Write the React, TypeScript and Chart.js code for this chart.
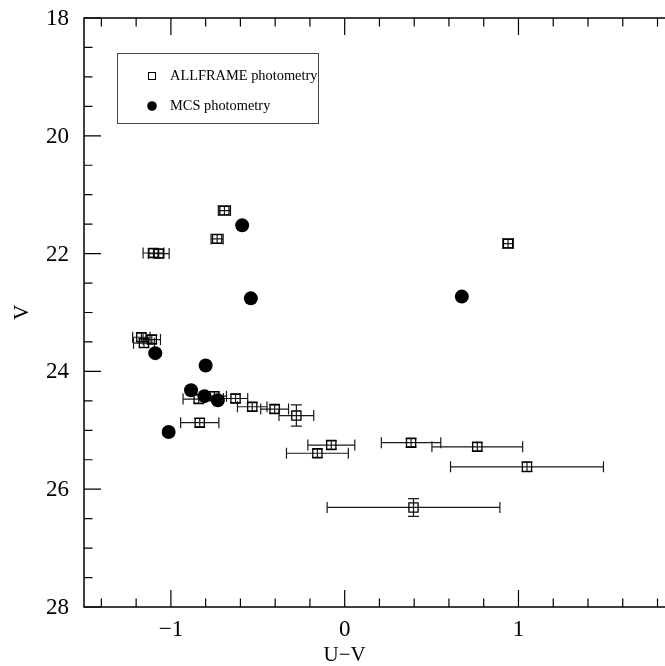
import React, { useEffect, useRef } from 'react';
import { Chart, registerables } from 'chart.js';

Chart.register(...registerables);

// ALLFRAME photometry (open squares with error bars)
const allframeX = [-0.692, -0.734, -1.10, -1.07, 0.94, -1.17, -1.155, -1.11, -0.84, -0.75, -0.628, -0.532, -0.403, -0.278, -0.834, -0.077, -0.157, 0.382, 0.763, 1.049, 0.396];
const allframeY = [21.27, 21.75, 21.99, 22.0, 21.83, 23.42, 23.52, 23.46, 24.47, 24.42, 24.46, 24.6, 24.64, 24.75, 24.87, 25.25, 25.39, 25.21, 25.28, 25.62, 26.31];
const allframeXErr = [0.035, 0.035, 0.06, 0.06, 0.03, 0.05, 0.06, 0.05, 0.09, 0.07, 0.07, 0.085, 0.08, 0.1, 0.11, 0.135, 0.178, 0.171, 0.261, 0.44, 0.497];
const allframeYErr = [0.07, 0.07, 0.07, 0.07, 0.07, 0.07, 0.07, 0.07, 0.07, 0.07, 0.07, 0.07, 0.07, 0.18, 0.07, 0.07, 0.07, 0.07, 0.07, 0.08, 0.15];

// MCS photometry (filled circles)
const mcsX = [-0.59, -0.54, 0.674, -1.09, -0.8, -0.884, -0.807, -0.73, -1.013];
const mcsY = [21.52, 22.76, 22.73, 23.69, 23.9, 24.32, 24.42, 24.49, 25.03];

const xTickLabels = [-1, 0, 1];
const yTickLabels = [18, 20, 22, 24, 26, 28];
const xMinorStep = 0.2;
const yMinorStep = 0.5;
const legendLabels = ['ALLFRAME photometry', 'MCS photometry'];
const xTitle = 'U\u2212V';
const yTitle = 'V';

const FONT = '"Liberation Serif", "DejaVu Serif", serif';

const fmt = (v: number) => (v < 0 ? '\u2212' + Math.abs(v) : String(v));

const decorPlugin = {
  id: 'decor',
  beforeDatasetsDraw(chart: any) {
    const ctx = chart.ctx;
    const xs = chart.scales.x;
    const ys = chart.scales.y;
    ctx.save();
    ctx.strokeStyle = '#1a1a1a';
    ctx.lineWidth = 1.2;
    allframeX.forEach((x, i) => {
      const y = allframeY[i];
      const px = xs.getPixelForValue(x);
      const py = ys.getPixelForValue(y);
      const x1 = xs.getPixelForValue(x - allframeXErr[i]);
      const x2 = xs.getPixelForValue(x + allframeXErr[i]);
      const y1 = ys.getPixelForValue(y - allframeYErr[i]);
      const y2 = ys.getPixelForValue(y + allframeYErr[i]);
      ctx.beginPath();
      ctx.moveTo(x1, py); ctx.lineTo(x2, py);
      ctx.moveTo(x1, py - 5.5); ctx.lineTo(x1, py + 5.5);
      ctx.moveTo(x2, py - 5.5); ctx.lineTo(x2, py + 5.5);
      ctx.moveTo(px, y1); ctx.lineTo(px, y2);
      ctx.moveTo(px - 5.5, y1); ctx.lineTo(px + 5.5, y1);
      ctx.moveTo(px - 5.5, y2); ctx.lineTo(px + 5.5, y2);
      ctx.stroke();
    });
    ctx.restore();
  },
  afterDraw(chart: any) {
    const ctx = chart.ctx;
    const xs = chart.scales.x;
    const ys = chart.scales.y;
    const a = chart.chartArea;
    ctx.save();
    ctx.strokeStyle = '#000';
    ctx.lineWidth = 1.5;
    // frame (right edge lies outside the visible window)
    ctx.beginPath();
    ctx.moveTo(chart.width, a.top); ctx.lineTo(a.left, a.top); ctx.lineTo(a.left, a.bottom); ctx.lineTo(chart.width, a.bottom);
    ctx.stroke();
    ctx.lineWidth = 1.2;
    // x ticks (bottom and top)
    ctx.beginPath();
    const xStart = Math.ceil(xs.min / xMinorStep) * xMinorStep;
    for (let v = xStart; v <= xs.max + 1e-9; v += xMinorStep) {
      const major = Math.abs(v - Math.round(v)) < 1e-6;
      const len = major ? 17 : 8.5;
      const px = xs.getPixelForValue(v);
      ctx.moveTo(px, a.bottom); ctx.lineTo(px, a.bottom - len);
      ctx.moveTo(px, a.top); ctx.lineTo(px, a.top + len);
    }
    // y ticks (left)
    const yStart = Math.ceil(ys.min / yMinorStep) * yMinorStep;
    for (let v = yStart; v <= ys.max + 1e-9; v += yMinorStep) {
      const major = Math.abs(v / 2 - Math.round(v / 2)) < 1e-6;
      const len = major ? 17 : 8.5;
      const py = ys.getPixelForValue(v);
      ctx.moveTo(a.left, py); ctx.lineTo(a.left + len, py);
    }
    ctx.stroke();

    // tick labels
    ctx.fillStyle = '#000';
    ctx.font = `23px ${FONT}`;
    ctx.textAlign = 'center';
    ctx.textBaseline = 'middle';
    xTickLabels.forEach((v) => ctx.fillText(fmt(v), xs.getPixelForValue(v), a.bottom + 23));
    ctx.textAlign = 'right';
    yTickLabels.forEach((v) => ctx.fillText(fmt(v), a.left - 15, ys.getPixelForValue(v) + 1));

    // axis titles
    ctx.font = `21px ${FONT}`;
    ctx.textAlign = 'center';
    ctx.fillText(xTitle, xs.getPixelForValue(0), 655);
    ctx.save();
    ctx.translate(22, (a.top + a.bottom) / 2);
    ctx.rotate(-Math.PI / 2);
    ctx.fillText(yTitle, 0, 0);
    ctx.restore();

    // legend
    ctx.strokeStyle = '#444';
    ctx.lineWidth = 1;
    ctx.strokeRect(117.5, 53.5, 201, 70);
    ctx.strokeStyle = '#000';
    ctx.strokeRect(148.5, 72.5, 7, 7);
    ctx.beginPath();
    ctx.arc(152, 106, 4.8, 0, Math.PI * 2);
    ctx.fill();
    ctx.font = `14.4px ${FONT}`;
    ctx.textAlign = 'left';
    ctx.textBaseline = 'middle';
    ctx.fillText(legendLabels[0], 170, 76);
    ctx.fillText(legendLabels[1], 170, 106);
    ctx.restore();
  },
};

export default function App() {
  const ref = useRef<HTMLCanvasElement>(null);
  useEffect(() => {
    if (!ref.current) return;
    const chart = new Chart(ref.current, {
      type: 'scatter',
      data: {
        datasets: [
          {
            label: legendLabels[1],
            data: mcsX.map((x, i) => ({ x, y: mcsY[i] })),
            pointStyle: 'circle',
            pointRadius: 7,
            backgroundColor: '#000',
            borderColor: '#000',
            borderWidth: 0,
          },
          {
            label: legendLabels[0],
            data: allframeX.map((x, i) => ({ x, y: allframeY[i] })),
            pointStyle: 'rect',
            pointRadius: 6.5,
            backgroundColor: 'rgba(0,0,0,0)',
            borderColor: '#000',
            borderWidth: 1.3,
          },
        ],
      },
      options: {
        responsive: false,
        animation: false,
        layout: { padding: { top: 18, right: 0, bottom: 0, left: 0 } },
        plugins: { legend: { display: false }, tooltip: { enabled: false } },
        scales: {
          x: {
            type: 'linear',
            min: -1.5,
            max: 1.85,
            grid: { display: false, drawTicks: false },
            border: { display: false },
            ticks: { display: false },
            afterFit: (s: any) => { s.height = 59; },
            afterBuildTicks: (s: any) => { s.ticks = xTickLabels.map((v) => ({ value: v })); },
          },
          y: {
            type: 'linear',
            reverse: true,
            min: 18,
            max: 28,
            grid: { display: false, drawTicks: false },
            border: { display: false },
            ticks: { display: false },
            afterFit: (s: any) => { s.width = 84; },
            afterBuildTicks: (s: any) => { s.ticks = yTickLabels.map((v) => ({ value: v })); },
          },
        },
      },
      plugins: [decorPlugin],
    });
    return () => chart.destroy();
  }, []);
  return (
    <div style={{ position: 'absolute', left: 0, top: 0, width: 665, height: 666, overflow: 'hidden', background: '#fff' }}>
      <canvas ref={ref} width={674} height={666} style={{ width: 674, height: 666 }} />
    </div>
  );
}
